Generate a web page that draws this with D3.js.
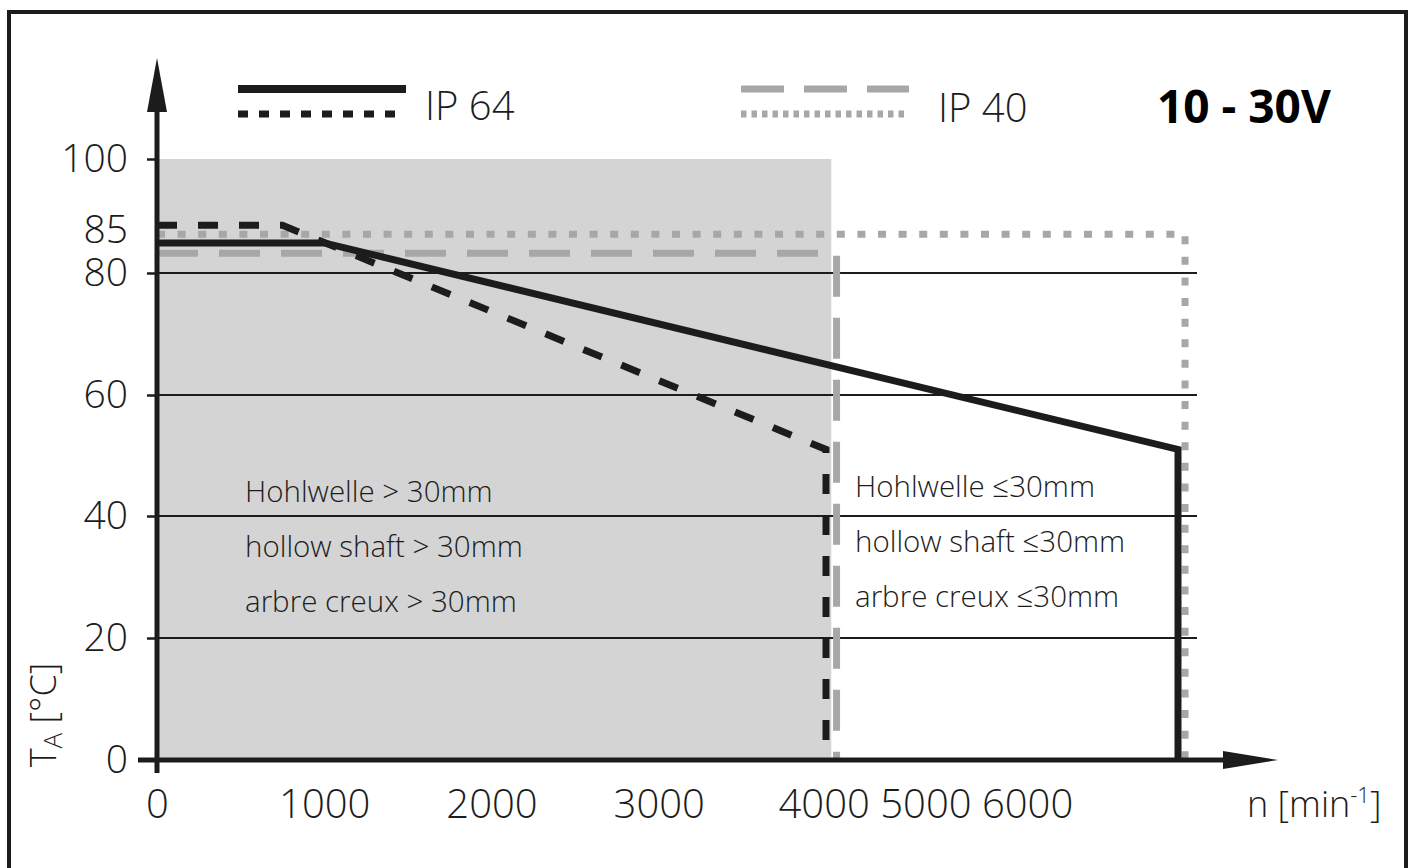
<!DOCTYPE html>
<html>
<head>
<meta charset="utf-8">
<script src="https://cdn.jsdelivr.net/npm/d3@7"></script>
<style>
  body { margin: 0; background: #fff; }
  svg { display: block; font-family: "Open Sans", sans-serif; }
</style>
</head>
<body>
<svg id="chart" width="1415" height="868"></svg>
<script>
// ticks and labels
const xTicks = [0, 1000, 2000, 3000, 4000]
const xTickExtra = ["5000", "6000"]
const yTicks = [0, 20, 40, 60, 80, 85, 100]
const gridValues = [20, 40, 60, 80]

// curves as [rpm, temperature]
const ip64Solid = [[0, 83.5], [1000, 83.5], [6000, 51], [6000, 0]]
const ip64Dashed = [[0, 86], [750, 86], [4000, 51], [4000, 0]]
const ip40Dashed = [[0, 82.3], [4060, 82.3], [4060, 0]]
const ip40Dotted = [[0, 84.5], [6040, 84.5], [6040, 0]]

// shaded zone (hollow shaft > 30mm)
const shadeX = [0, 4030]
const shadeY = [0, 100]

const leftNotes = ["Hohlwelle > 30mm", "hollow shaft > 30mm", "arbre creux > 30mm"]
const rightNotes = ["Hohlwelle \u226430mm", "hollow shaft \u226430mm", "arbre creux \u226430mm"]

const black = "#1c1c1c"
const grey = "#a7a7a7"
const shade = "#d4d4d4"

const svg = d3.select("#chart")

// the drawing is not to scale, so both scales are piecewise
const x = d3.scaleLinear().domain([0, 4000, 6000]).range([157, 826, 1178])
const y = d3.scaleLinear().domain(yTicks).range([760, 638, 516, 395, 273, 230, 159])

svg.append("rect").attr("width", 1415).attr("height", 868).attr("fill", "#fff")

// outer frame
svg.append("rect")
    .attr("x", 9).attr("y", 12)
    .attr("width", 1397).attr("height", 880)
    .attr("fill", "none").attr("stroke", black).attr("stroke-width", 4)

// shaded area
svg.append("rect")
    .attr("x", x(shadeX[0]))
    .attr("y", y(shadeY[1]))
    .attr("width", x(shadeX[1]) - x(shadeX[0]))
    .attr("height", y(shadeY[0]) - y(shadeY[1]))
    .attr("fill", shade)

// grid lines
svg.append("g")
    .selectAll("line")
    .data(gridValues)
    .join("line")
    .attr("x1", x(0)).attr("x2", x(6000) + 19)
    .attr("y1", d => y(d)).attr("y2", d => y(d))
    .attr("stroke", black).attr("stroke-width", 2)

// y axis ticks + labels
const yAxis = svg.append("g")
    .attr("transform", "translate(" + x(0) + ",0)")
    .call(d3.axisLeft(y).tickValues(yTicks).tickSize(10).tickPadding(19))
yAxis.select(".domain").remove()
yAxis.selectAll(".tick line").attr("stroke", black).attr("stroke-width", 2.5)
    .filter(d => d === 85).remove()
yAxis.selectAll(".tick text")
    .attr("font-family", "Open Sans").attr("font-weight", 300)
    .attr("font-size", 39).attr("fill", black)

// x axis labels
const xAxis = svg.append("g")
    .attr("transform", "translate(0," + y(0) + ")")
    .call(d3.axisBottom(x).tickValues(xTicks).tickFormat(d3.format("d")).tickSize(0).tickPadding(30))
xAxis.select(".domain").remove()
xAxis.selectAll(".tick text")
    .attr("font-family", "Open Sans").attr("font-weight", 300)
    .attr("font-size", 40).attr("fill", black)
// the last tick carries the crowded "4000 5000 6000" label
xAxis.selectAll(".tick text").filter(d => d === 4000)
    .attr("text-anchor", "start").attr("x", -48)
    .text(d => [d].concat(xTickExtra).join(" "))

// curves
const line = d3.line().x(d => x(d[0])).y(d => y(d[1]))

const curves = [
    { data: ip40Dashed, color: grey, dash: "41,21" },
    { data: ip40Dotted, color: grey, dash: "8,12.6" },
    { data: ip64Dashed, color: black, dash: "20,21" },
    { data: ip64Solid, color: black, dash: null },
]

svg.append("g")
    .selectAll("path")
    .data(curves)
    .join("path")
    .attr("d", d => line(d.data))
    .attr("fill", "none")
    .attr("stroke", d => d.color)
    .attr("stroke-width", 7)
    .attr("stroke-dasharray", d => d.dash)

// axis lines with arrows
svg.append("line")
    .attr("x1", x(0)).attr("y1", y(0) + 13)
    .attr("x2", x(0)).attr("y2", 110)
    .attr("stroke", black).attr("stroke-width", 5)
svg.append("polygon")
    .attr("points", [[x(0), 58], [x(0) - 10, 112], [x(0) + 10, 112]].join(" "))
    .attr("fill", black)

svg.append("line")
    .attr("x1", x(0) - 19).attr("y1", y(0))
    .attr("x2", 1225).attr("y2", y(0))
    .attr("stroke", black).attr("stroke-width", 5)
svg.append("polygon")
    .attr("points", [[1278, y(0)], [1223, y(0) - 9], [1223, y(0) + 9]].join(" "))
    .attr("fill", black)

// axis titles
const xTitle = svg.append("text")
    .attr("x", 1247).attr("y", 817)
    .attr("font-size", 36).attr("font-weight", 300).attr("fill", black)
xTitle.append("tspan").text("n [min")
xTitle.append("tspan").attr("font-size", 22).attr("dy", -14).text("-1")
xTitle.append("tspan").attr("dy", 14).text("]")

const yTitle = svg.append("text")
    .attr("transform", "translate(56,715) rotate(-90)")
    .attr("text-anchor", "middle")
    .attr("font-size", 36).attr("font-weight", 300).attr("fill", black)
yTitle.append("tspan").text("T")
yTitle.append("tspan").attr("font-size", 26).attr("dy", 6).text("A")
yTitle.append("tspan").attr("dy", -6).text(" [\u00B0C]")

// legend
const legend = svg.append("g")
const legendItems = [
    { x: 238, y: 89, color: black, dash: null },
    { x: 238, y: 114, color: black, dash: "10,11" },
    { x: 741, y: 89, color: grey, dash: "43,20" },
    { x: 741, y: 114, color: grey, dash: "5.5,5" },
]
legend.selectAll("line")
    .data(legendItems)
    .join("line")
    .attr("x1", d => d.x).attr("x2", d => d.x + 168)
    .attr("y1", d => d.y).attr("y2", d => d.y)
    .attr("stroke", d => d.color)
    .attr("stroke-width", d => d.dash ? 7 : 8)
    .attr("stroke-dasharray", d => d.dash)

legend.append("text").attr("x", 425).attr("y", 120)
    .attr("font-size", 40).attr("font-weight", 300).attr("fill", black).text("IP 64")
legend.append("text").attr("x", 938).attr("y", 122)
    .attr("font-size", 40).attr("font-weight", 300).attr("fill", black).text("IP 40")
svg.append("text").attr("x", 1157).attr("y", 123)
    .attr("font-size", 46).attr("font-weight", 700).attr("fill", "#000").text("10 - 30V")

// zone notes
svg.append("g")
    .selectAll("text")
    .data(leftNotes)
    .join("text")
    .attr("x", 245).attr("y", (d, i) => 502 + i * 55)
    .attr("font-size", 29.5).attr("font-weight", 300).attr("fill", black)
    .text(d => d)

svg.append("g")
    .selectAll("text")
    .data(rightNotes)
    .join("text")
    .attr("x", 855).attr("y", (d, i) => 497 + i * 55)
    .attr("font-size", 29.5).attr("font-weight", 300).attr("fill", black)
    .text(d => d)
</script>
</body>
</html>
